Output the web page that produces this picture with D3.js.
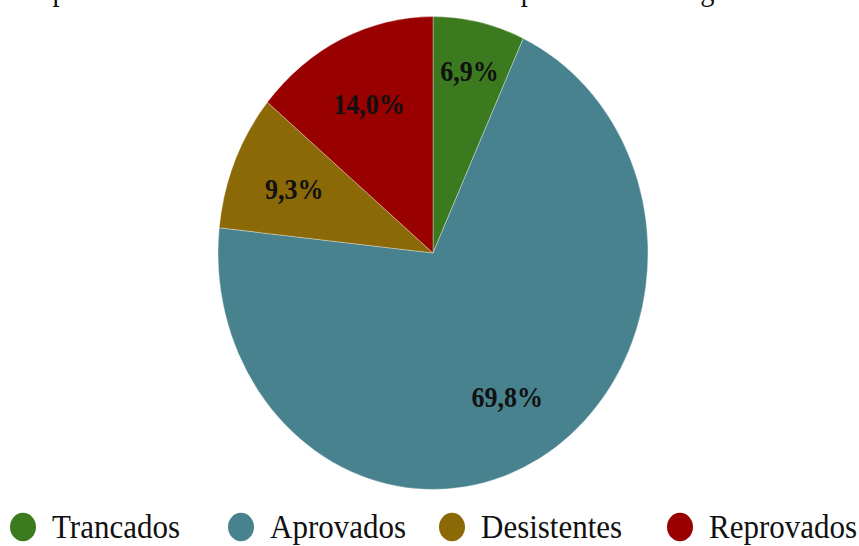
<!DOCTYPE html>
<html>
<head>
<meta charset="utf-8">
<script src="https://cdn.jsdelivr.net/npm/d3@7"></script>
<style>
  html, body { margin: 0; padding: 0; background: #ffffff; }
  svg { display: block; }
</style>
</head>
<body>
<svg id="chart" width="859" height="546"></svg>
<script>
// ---- data ----
const titleText = "Comparativo dos resultados obtidos na turma por curso e categoria";
const categories = ["Trancados", "Aprovados", "Desistentes", "Reprovados"];
const values = [6.9, 69.8, 9.3, 14.0];
const valueLabels = ["6,9%", "69,8%", "9,3%", "14,0%"];
const colors = ["#3b7a1f", "#48828f", "#8a6906", "#990000"];

// ---- layout ----
const W = 859, H = 546;
const sy = 1.1;                 // source picture is stretched vertically
const svg = d3.select("#chart");
const root = svg.append("g").attr("transform", `scale(1, ${sy})`);

const cx = 433, cy = 230, r = 215;

// title (cut off at the top of the picture, as in the reference)
root.append("text")
  .attr("x", -3).attr("y", 0)
  .attr("text-anchor", "start")
  .attr("font-family", "'Liberation Serif', 'DejaVu Serif', serif")
  .attr("font-size", 28.5)
  .attr("fill", "#111")
  .text(titleText);

const data = categories.map((c, i) => ({ cat: c, value: values[i], label: valueLabels[i], color: colors[i] }));

const pie = d3.pie().value(d => d.value).sort(null);
const arcs = pie(data);
const arc = d3.arc().innerRadius(0).outerRadius(r);

const g = root.append("g").attr("transform", `translate(${cx},${cy})`);

g.selectAll("path.slice")
  .data(arcs)
  .join("path")
  .attr("class", "slice")
  .attr("d", arc)
  .attr("fill", d => d.data.color)
  .attr("stroke", "rgba(255,255,255,0.45)")
  .attr("stroke-width", 0.7);

g.selectAll("text.lbl")
  .data(arcs)
  .join("text")
  .attr("class", "lbl")
  .attr("transform", d => {
    const f = d.data.value < 8 ? 0.79 : 0.70;
    const la = d3.arc().innerRadius(r * f).outerRadius(r * f);
    const [x, y] = la.centroid(d);
    return `translate(${x},${y})`;
  })
  .attr("text-anchor", "middle")
  .attr("dy", "0.36em")
  .attr("font-family", "'Liberation Serif', 'DejaVu Serif', serif")
  .attr("font-weight", "bold")
  .attr("font-size", 26)
  .attr("fill", "#111")
  .text(d => d.data.label);

// legend
const legendOffsets = [23, 241, 452, 680];
const lg = root.append("g").attr("transform", `translate(0, ${527 / sy})`);
const items = lg.selectAll("g.item")
  .data(data)
  .join("g")
  .attr("class", "item")
  .attr("transform", (d, i) => `translate(${legendOffsets[i]},0)`);

items.append("circle")
  .attr("r", 13)
  .attr("fill", d => d.color);

items.append("text")
  .attr("x", 29)
  .attr("dy", "0.33em")
  .attr("font-family", "'Liberation Serif', 'DejaVu Serif', serif")
  .attr("font-size", 31)
  .attr("fill", "#111")
  .text(d => d.cat);
</script>
</body>
</html>
